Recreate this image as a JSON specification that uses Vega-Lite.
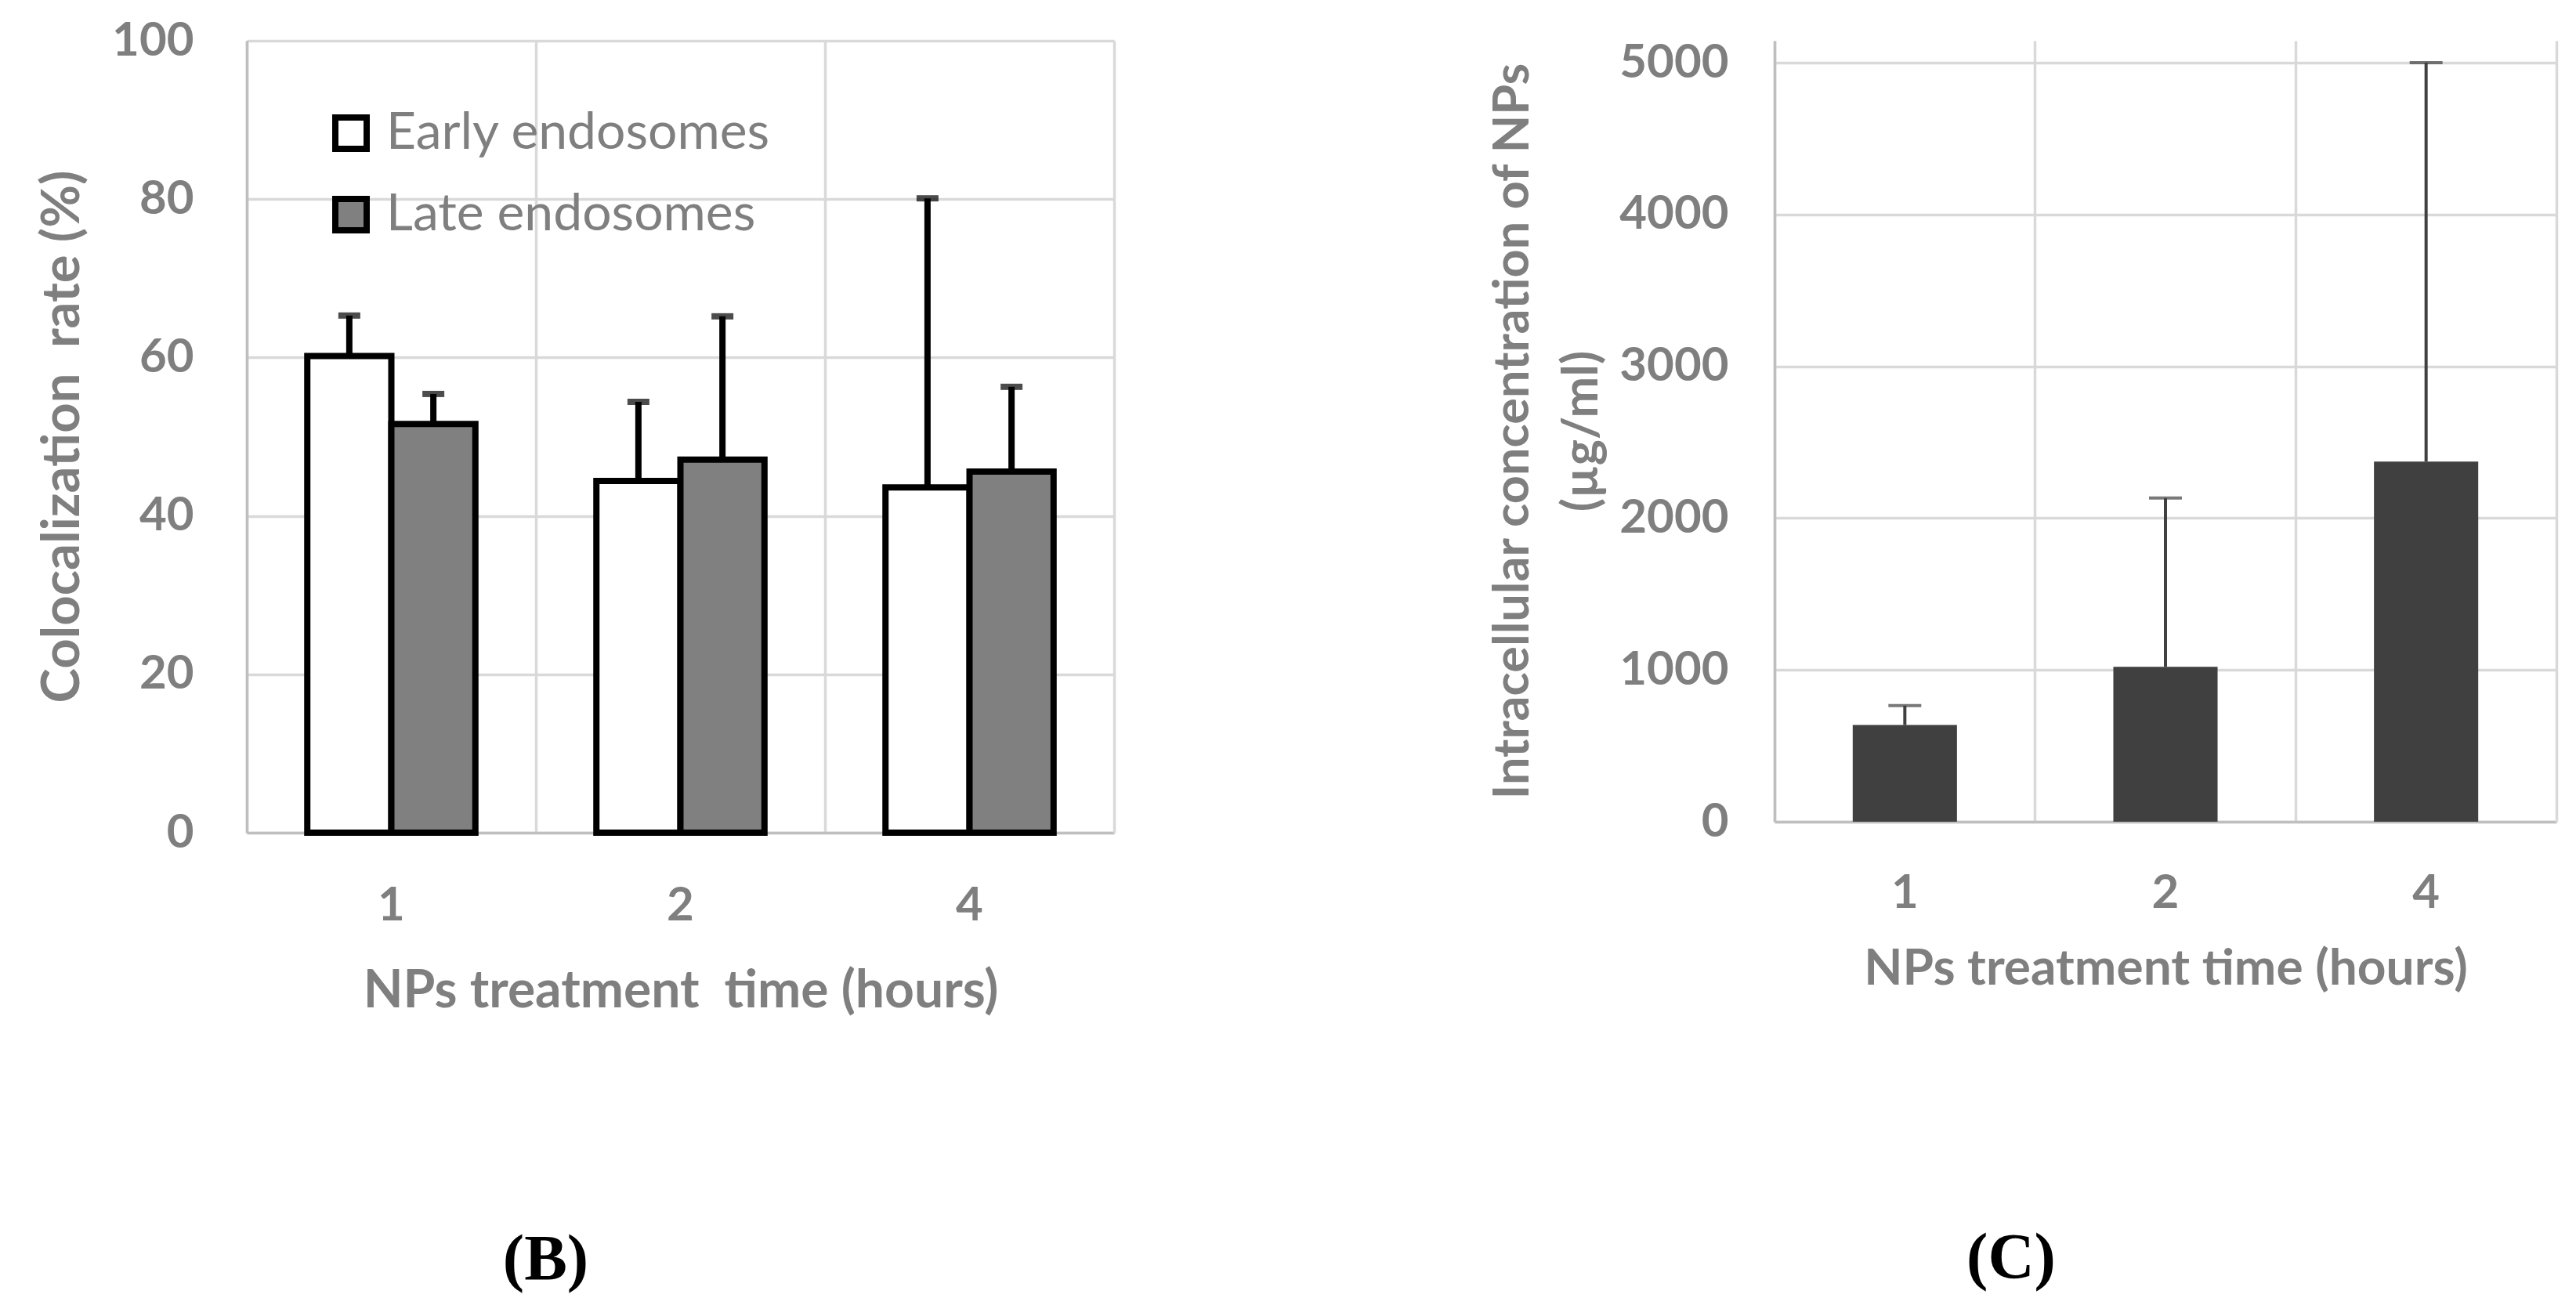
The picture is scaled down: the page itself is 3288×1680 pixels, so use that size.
{
  "$schema": "https://vega.github.io/schema/vega-lite/v6.json",
  "background": "white",
  "padding": {"left": 45, "top": 22, "right": 5, "bottom": 5},
  "config": {
    "font": "Lato",
    "view": {"stroke": null},
    "concat": {"spacing": 843},
    "axis": {"gridColor": "#d9d9d9", "gridWidth": 3.5, "domainColor": "#bfbfbf", "domainWidth": 3.5}
  },
  "bounds": "flush",
  "hconcat": [
    {
      "width": 1107,
      "height": 1011,
      "title": {"text": "(B)", "orient": "bottom", "anchor": "middle", "frame": "group", "dx": -172, "offset": 270, "font": "Liberation Serif", "fontSize": 82, "fontWeight": "bold", "color": "black"},
      "data": {"values": [
        {"time": "1", "type": "Early endosomes", "value": 60.2, "upper": 65.3},
        {"time": "1", "type": "Late endosomes", "value": 51.6, "upper": 55.4},
        {"time": "2", "type": "Early endosomes", "value": 44.4, "upper": 54.4},
        {"time": "2", "type": "Late endosomes", "value": 47.1, "upper": 65.2},
        {"time": "4", "type": "Early endosomes", "value": 43.6, "upper": 80.1},
        {"time": "4", "type": "Late endosomes", "value": 45.6, "upper": 56.3}
      ]},
      "resolve": {"axis": {"x": "independent", "y": "independent"}},
      "layer": [
        {
          "mark": {"type": "bar", "stroke": "black", "strokeWidth": 8, "strokeJoin": "miter"},
          "encoding": {
            "x": {"field": "time", "type": "nominal", "scale": {"paddingInner": 0, "paddingOuter": 0},
              "axis": {"orient": "bottom", "grid": false, "ticks": false, "tickSize": 0, "labelAngle": 0, "labelFontSize": 60, "labelFontWeight": "bold", "labelColor": "#7f7f7f", "labelPadding": 64, "title": "NPs treatment\u00a0 time (hours)", "titleFontSize": 66, "titleFontWeight": "bold", "titleColor": "#7f7f7f", "titleY": 202, "titleBaseline": "middle"}},
            "xOffset": {"field": "type", "type": "nominal", "scale": {"paddingInner": 0, "paddingOuter": 0.72}},
            "y": {"field": "value", "type": "quantitative", "scale": {"domain": [0, 100]},
              "axis": {"orient": "left", "values": [0, 20, 40, 60, 80, 100], "grid": true, "ticks": false, "tickSize": 0, "labelFontSize": 60, "labelFontWeight": "bold", "labelColor": "#7f7f7f", "labelPadding": 68, "title": "Colocalization\u00a0 rate (%)", "titleFontSize": 67, "titleFontWeight": "bold", "titleColor": "#7f7f7f", "titleX": -235, "titleY": 505, "titleAngle": -90, "titleBaseline": "middle", "titleAlign": "center"}},
            "fill": {"field": "type", "type": "nominal", "scale": {"domain": ["Early endosomes", "Late endosomes"], "range": ["white", "#808080"]},
              "legend": {"orient": "none", "legendX": 100, "legendY": 85, "title": null, "symbolType": "square", "symbolSize": 1600, "symbolStrokeColor": "black", "symbolStrokeWidth": 8, "symbolOpacity": 1, "labelFontSize": 66, "labelColor": "#7f7f7f", "labelFontWeight": "normal", "rowPadding": 32, "labelOffset": 12, "labelLimit": 1000}}
          }
        },
        {
          "mark": {"type": "rule", "color": "black", "strokeWidth": 8},
          "encoding": {
            "x": {"field": "time", "type": "nominal", "axis": null},
            "xOffset": {"field": "type", "type": "nominal"},
            "y": {"field": "value", "type": "quantitative", "axis": null},
            "y2": {"field": "upper"}
          }
        },
        {
          "mark": {"type": "tick", "color": "black", "thickness": 8, "size": 28},
          "encoding": {
            "x": {"field": "time", "type": "nominal",
              "axis": {"orient": "top", "grid": true, "bandPosition": 0, "labels": false, "ticks": false, "domain": false, "title": null}},
            "xOffset": {"field": "type", "type": "nominal"},
            "y": {"field": "upper", "type": "quantitative",
              "axis": {"orient": "right", "grid": false, "labels": false, "ticks": false, "domain": true, "domainColor": "#d9d9d9", "title": null}}
          }
        }
      ]
    },
    {
      "width": 998,
      "height": 997,
      "title": {"text": "(C)", "orient": "bottom", "anchor": "middle", "frame": "group", "dx": -197, "offset": 297, "font": "Liberation Serif", "fontSize": 82, "fontWeight": "bold", "color": "black"},
      "data": {"values": [
        {"time": "1", "value": 637, "upper": 765},
        {"time": "2", "value": 1021, "upper": 2132},
        {"time": "4", "value": 2372, "upper": 5000}
      ]},
      "resolve": {"axis": {"x": "independent", "y": "independent"}},
      "layer": [
        {
          "mark": {"type": "bar", "fill": "#404040", "width": {"band": 0.4}},
          "encoding": {
            "x": {"field": "time", "type": "nominal", "scale": {"paddingInner": 0, "paddingOuter": 0},
              "axis": {"orient": "bottom", "grid": false, "ticks": false, "tickSize": 0, "labelAngle": 0, "labelFontSize": 60, "labelFontWeight": "bold", "labelColor": "#7f7f7f", "labelPadding": 62, "title": "NPs treatment time (hours)", "titleFontSize": 64, "titleFontWeight": "bold", "titleColor": "#7f7f7f", "titleY": 188, "titleBaseline": "middle"}},
            "y": {"field": "value", "type": "quantitative", "scale": {"domain": [0, 5145], "nice": false},
              "axis": {"orient": "left", "values": [0, 1000, 2000, 3000, 4000, 5000], "format": "d", "grid": true, "ticks": false, "tickSize": 0, "labelFontSize": 60, "labelFontWeight": "bold", "labelColor": "#7f7f7f", "labelPadding": 59, "title": ["Intracellular concentration of NPs", "(µg/ml)"], "titleFontSize": 63, "titleFontWeight": "bold", "titleColor": "#7f7f7f", "titleX": -334, "titleY": 498, "titleAngle": -90, "titleBaseline": "middle", "titleAlign": "center", "titleLineHeight": 88}}
          }
        },
        {
          "mark": {"type": "rule", "color": "#404040", "strokeWidth": 4},
          "encoding": {
            "x": {"field": "time", "type": "nominal", "axis": null},
            "y": {"field": "value", "type": "quantitative", "axis": null},
            "y2": {"field": "upper"}
          }
        },
        {
          "mark": {"type": "tick", "color": "#404040", "thickness": 4, "size": 42},
          "encoding": {
            "x": {"field": "time", "type": "nominal",
              "axis": {"orient": "top", "grid": true, "bandPosition": 0, "labels": false, "ticks": false, "domain": false, "title": null}},
            "y": {"field": "upper", "type": "quantitative",
              "axis": {"orient": "right", "grid": false, "labels": false, "ticks": false, "domain": true, "domainColor": "#d9d9d9", "title": null}}
          }
        }
      ]
    }
  ]
}
